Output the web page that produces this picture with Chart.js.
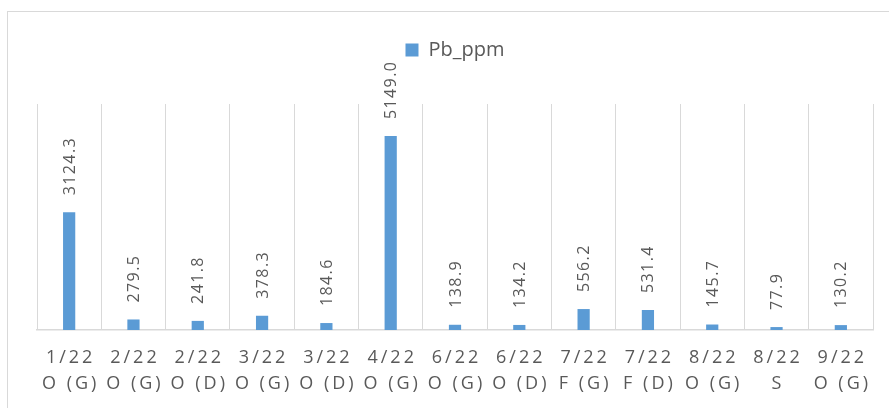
<!DOCTYPE html>
<html>
<head>
<meta charset="utf-8">
<script src="https://cdn.jsdelivr.net/npm/chart.js@4/dist/chart.umd.min.js"></script>
<style>
  html, body { margin: 0; padding: 0; background: #ffffff; }
  #wrap { position: relative; width: 889px; height: 408px; overflow: hidden; }
  #frame {
    position: absolute; left: 7px; top: 11px; width: 900px; height: 420px;
    border: 1.5px solid #d9d9d9; box-sizing: border-box; pointer-events: none;
  }
  canvas { position: absolute; left: 0; top: 0; }
</style>
</head>
<body>
<div id="wrap">
  <canvas id="chart" width="889" height="408"></canvas>
  <div id="frame"></div>
</div>
<script>
// Sampling month (first line of each category label)
const months = ["1/22", "2/22", "2/22", "3/22", "3/22", "4/22", "6/22", "6/22", "7/22", "7/22", "8/22", "8/22", "9/22"];
// Sample type (second line of each category label)
const sampleTypes = ["O (G)", "O (G)", "O (D)", "O (G)", "O (D)", "O (G)", "O (G)", "O (D)", "F (G)", "F (D)", "O (G)", "S", "O (G)"];
// Lead concentration, ppm
const pbPpm = [3124.3, 279.5, 241.8, 378.3, 184.6, 5149.0, 138.9, 134.2, 556.2, 531.4, 145.7, 77.9, 130.2];

const labels = months.map((m, i) => [m, sampleTypes[i]]);

const TEXT = '#595959';
const FONT = '"Open Sans", "Liberation Sans", sans-serif';

// Category labels and rotated value labels, drawn with letter spacing
const spacedLabels = {
  id: 'spacedLabels',
  afterDraw(chart) {
    const ctx = chart.ctx;
    const xs = chart.scales.x;
    const area = chart.chartArea;
    const meta = chart.getDatasetMeta(0);
    const data = chart.data.datasets[0].data;

    ctx.save();
    ctx.fillStyle = TEXT;

    // value labels above each bar
    ctx.font = '16px ' + FONT;
    ctx.letterSpacing = '1.4px';
    ctx.textAlign = 'left';
    ctx.textBaseline = 'middle';
    meta.data.forEach((bar, i) => {
      ctx.save();
      ctx.translate(bar.x + 1, bar.y - 17);
      ctx.rotate(-Math.PI / 2);
      ctx.fillText(data[i].toFixed(1), 0, 0);
      ctx.restore();
    });

    // two-line category labels
    ctx.font = '18px ' + FONT;
    ctx.letterSpacing = '3px';
    ctx.textAlign = 'center';
    ctx.textBaseline = 'middle';
    chart.data.labels.forEach((lines, i) => {
      const x = xs.getPixelForValue(i) + 1.5;
      lines.forEach((line, j) => {
        ctx.fillText(line, x, area.bottom + 28 + j * 26);
      });
    });
    ctx.restore();
  }
};

new Chart(document.getElementById('chart'), {
  type: 'bar',
  data: {
    labels: labels,
    datasets: [{
      label: 'Pb_ppm',
      data: pbPpm,
      backgroundColor: '#5b9bd5',
      borderWidth: 0,
      barPercentage: 0.19,
      categoryPercentage: 1.0
    }]
  },
  options: {
    responsive: false,
    animation: false,
    layout: { padding: { left: 37, right: 16, top: 0, bottom: 78 } },
    scales: {
      x: {
        grid: { color: '#d9d9d9', lineWidth: 1, drawTicks: false, offset: true },
        border: { color: '#d9d9d9', width: 1.5 },
        ticks: { display: false }
      },
      // empty band between the legend and the plot
      gap: {
        type: 'category',
        position: 'top',
        grid: { display: false },
        border: { display: false },
        ticks: { display: false },
        afterFit(scale) { scale.height = 34; }
      },
      y: {
        display: false,
        min: 0,
        max: 6000
      }
    },
    plugins: {
      legend: {
        position: 'top',
        labels: {
          boxWidth: 13,
          boxHeight: 13,
          padding: 40,
          color: TEXT,
          font: { family: FONT, size: 20 }
        }
      },
      tooltip: { enabled: false }
    }
  },
  plugins: [spacedLabels]
});
</script>
</body>
</html>
